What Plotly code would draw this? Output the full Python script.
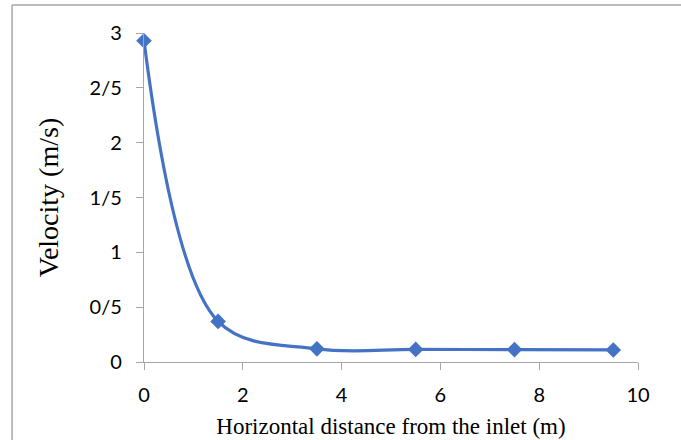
import plotly.graph_objects as go

# Velocity measured along the channel
distance_m = [0, 1.5, 3.5, 5.5, 7.5, 9.5]
velocity_ms = [2.93, 0.37, 0.12, 0.115, 0.113, 0.11]

x_ticks = [0, 2, 4, 6, 8, 10]
y_ticks = [0, 0.5, 1, 1.5, 2, 2.5, 3]
y_tick_labels = ["0", "0/5", "1", "1/5", "2", "2/5", "3"]

W, H = 681, 440
L, R, T, B = 143.5, 43.3, 33, 78.3
pw, ph = W - L - R, H - T - B

def px_to_paper_x(px):
    return (px - L) / pw

def py_to_paper_y(py):
    return (H - B - py) / ph

blue = "#4472C4"
axis_gray = "#a6a6a6"

fig = go.Figure(
    go.Scatter(
        x=distance_m,
        y=velocity_ms,
        mode="lines+markers",
        line=dict(color=blue, width=3.2, shape="spline", smoothing=1.0),
        marker=dict(symbol="diamond", size=12, color=blue),
        cliponaxis=False,
        showlegend=False,
    )
)

tick_font = dict(family="Lato, 'Open Sans', sans-serif", size=20, color="#000000")
serif = "'Liberation Serif', 'Times New Roman', serif"

fig.update_xaxes(
    range=[0, 10],
    tickvals=x_ticks,
    ticktext=[str(v) for v in x_ticks],
    showgrid=False,
    zeroline=False,
    showline=True,
    linecolor=axis_gray,
    linewidth=1.3,
    ticks="outside",
    ticklen=7,
    tickcolor=axis_gray,
    tickwidth=1.3,
    tickfont=tick_font,
    ticklabelstandoff=8,
    automargin=False,
    title=dict(text="Horizontal distance from the inlet (m)",
               font=dict(family=serif, size=23, color="#000000"), standoff=12),
)
fig.update_yaxes(
    range=[0, 3],
    tickvals=y_ticks,
    ticktext=y_tick_labels,
    showgrid=False,
    zeroline=False,
    showline=True,
    linecolor=axis_gray,
    linewidth=1.3,
    ticks="outside",
    ticklen=7,
    tickcolor=axis_gray,
    tickwidth=1.3,
    tickfont=tick_font,
    ticklabelstandoff=10,
    automargin=False,
    title=dict(text="Velocity (m/s)",
               font=dict(family=serif, size=28, color="#000000"), standoff=22),
)

# Outer chart frame
frame_left = px_to_paper_x(11.5)
frame_top = py_to_paper_y(5)
fig.add_shape(type="line", xref="paper", yref="paper",
              x0=frame_left, x1=frame_left, y0=frame_top, y1=-0.5,
              line=dict(color=axis_gray, width=1.5))
fig.add_shape(type="line", xref="paper", yref="paper",
              x0=frame_left, x1=1.5, y0=frame_top, y1=frame_top,
              line=dict(color=axis_gray, width=1.5))

fig.update_layout(
    width=W,
    height=H,
    margin=dict(l=L, r=R, t=T, b=B, pad=0),
    paper_bgcolor="white",
    plot_bgcolor="white",
)

fig.write_html("out.html")
